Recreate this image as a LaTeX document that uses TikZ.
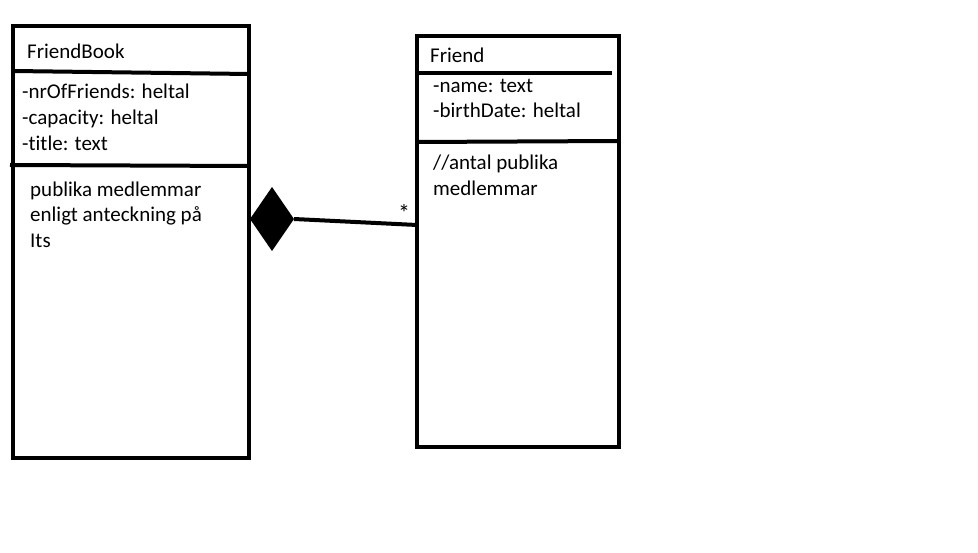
\documentclass[tikz,border=0pt]{standalone}
\usepackage{fontspec}
\setmainfont[Ligatures=NoCommon]{Carlito}
\usetikzlibrary{%
	positioning,
	shapes.geometric
}

\begin{document}
\begin{tikzpicture}[x=1pt,y=-1pt,
		classbox/.style={draw,line width=4pt,shape=rectangle,anchor=north west,inner sep=0pt,outer sep=0pt},
		entry/.style={anchor=base west,inner sep=0pt,font=\fontsize{21}{26}\selectfont},
		part/.style={line width=4pt},
		composite/.style={diamond,fill=black,inner sep=0pt,outer sep=0pt,minimum width=44pt,minimum height=64pt}
	]
	\useasboundingbox (0,0) rectangle (978,553);

		% FriendBook
		\node(book) [classbox, minimum width=236pt, minimum height=432pt] at (13,26) {};
		\draw[part] (13,71) -- (249,74);
		\draw[part] (10,165) -- (249,166);
		\node(book-name) [entry] at (27,59) {FriendBook};
		\node(book-a1) [entry] at (22,99) {-nrOfFriends: heltal};
		\node(book-a2) [entry] at (22,125) {-capacity: heltal};
		\node(book-a3) [entry] at (22,151) {-title: text};
		\node(book-m1) [entry] at (30,197) {publika medlemmar};
		\node(book-m2) [entry] at (30,222) {enligt anteckning på};
		\node(book-m3) [entry] at (30,248) {Its};

		% Friend
		\node(friend) [classbox, minimum width=202pt, minimum height=411pt] at (417,36) {};
		\draw[part] (417,73) -- (612,73);
		\draw[part] (417,142) -- (619,141);
		\node(friend-name) [entry] at (430,63) {Friend};
		\node(friend-a1) [entry] at (433,93) {-name: text};
		\node(friend-a2) [entry] at (433,118) {-birthDate: heltal};
		\node(friend-m1) [entry] at (433,170) {//antal publika};
		\node(friend-m2) [entry] at (433,196) {medlemmar};

		% composition
		\node(comp) [composite] at (272,219) {};
		\coordinate(friend-in) at (417,225);
		\draw[part] (comp.east) -- (friend-in);
		\node(mult) [anchor=base,inner sep=0pt,font=\fontsize{24}{26}\selectfont] at (404,222) {*};

\end{tikzpicture}
\end{document}
